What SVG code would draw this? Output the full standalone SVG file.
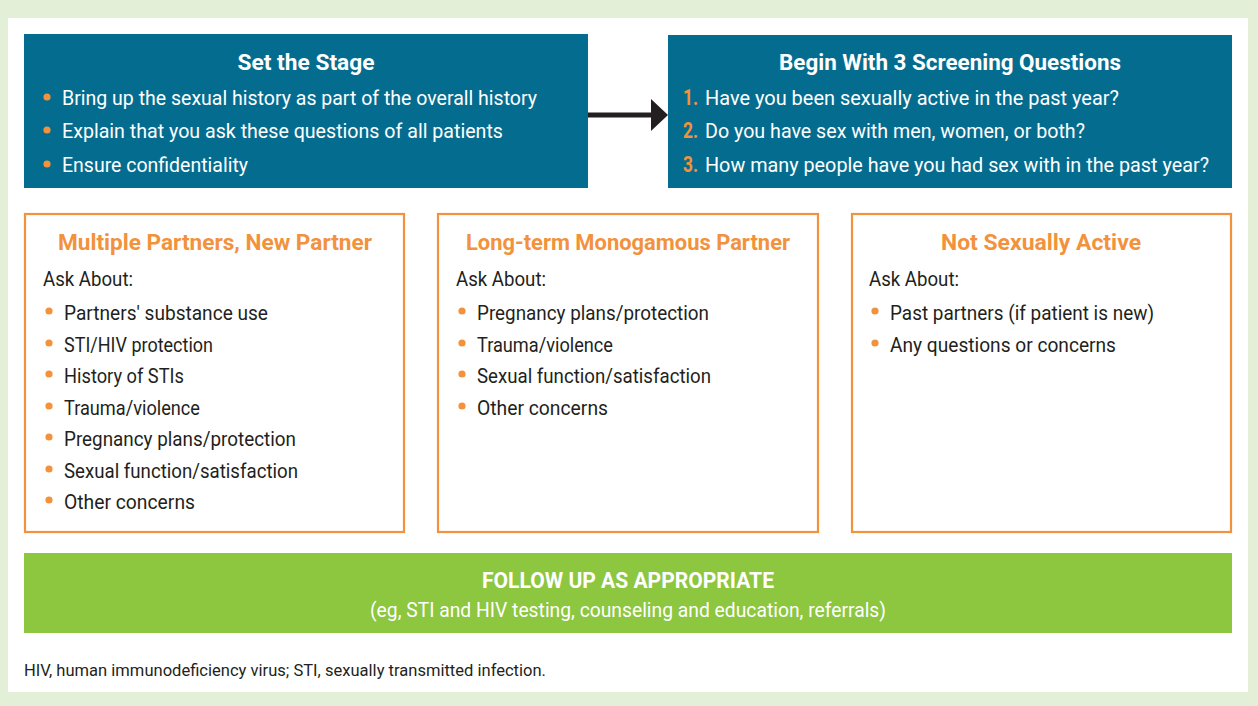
<svg xmlns="http://www.w3.org/2000/svg" width="1258" height="706" viewBox="0 0 1258 706">
  <defs>
    <style>
      .teal { fill: #046d8f; }
      .obox { fill: #ffffff; stroke: #f2923c; stroke-width: 2.2; }
      .green { fill: #8dc63f; }
      .t { font-family: Roboto, "Liberation Sans", sans-serif; font-size: 21px; }
      .w { fill: #ffffff; }
      .k { fill: #231f20; }
      .h { font-family: Roboto, "Liberation Sans", sans-serif; font-size: 22.5px; font-weight: 700; text-anchor: middle; }
      .h2 { font-size: 21.5px; }
      .oh { fill: #f2923c; }
      .num { fill: #f2923c; font-weight: 700; font-size: 21.5px; }
      .dot { fill: #f2923c; }
      .conn { stroke: #231f20; stroke-width: 5; fill: none; }
    </style>
    <marker id="arrowhead" markerUnits="userSpaceOnUse" markerWidth="18" markerHeight="32" refX="0" refY="16" orient="auto">
      <path d="M0,0 L17,16 L0,32 Z" fill="#231f20"/>
    </marker>
  </defs>

  <!-- page background and sheet -->
  <rect x="0" y="0" width="1258" height="706" fill="#e3efd6"/>
  <rect x="8" y="18" width="1240" height="674" fill="#ffffff"/>

  <!-- Set the Stage -->
  <g id="set-stage">
    <rect class="teal" x="24" y="34" width="564" height="154"/>
    <text class="h w" x="306" y="69.5" textLength="137" lengthAdjust="spacingAndGlyphs">Set the Stage</text>
    <circle class="dot" cx="47" cy="97" r="3.6"/>
    <circle class="dot" cx="47" cy="130" r="3.6"/>
    <circle class="dot" cx="47" cy="164" r="3.6"/>
    <text class="t w" x="62" y="105" textLength="475" lengthAdjust="spacingAndGlyphs">Bring up the sexual history as part of the overall history</text>
    <text class="t w" x="62" y="138" textLength="441" lengthAdjust="spacingAndGlyphs">Explain that you ask these questions of all patients</text>
    <text class="t w" x="62" y="172" textLength="186" lengthAdjust="spacingAndGlyphs">Ensure confidentiality</text>
  </g>

  <!-- Screening questions -->
  <g id="screening">
    <rect class="teal" x="668" y="35" width="564" height="153"/>
    <text class="h w" x="950" y="69.5" textLength="342" lengthAdjust="spacingAndGlyphs">Begin With 3 Screening Questions</text>
    <text class="t num" x="683" y="105" textLength="15" lengthAdjust="spacingAndGlyphs">1.</text>
    <text class="t num" x="683" y="138" textLength="15" lengthAdjust="spacingAndGlyphs">2.</text>
    <text class="t num" x="683" y="172" textLength="15" lengthAdjust="spacingAndGlyphs">3.</text>
    <text class="t w" x="705" y="105" textLength="414" lengthAdjust="spacingAndGlyphs">Have you been sexually active in the past year?</text>
    <text class="t w" x="705" y="138" textLength="380" lengthAdjust="spacingAndGlyphs">Do you have sex with men, women, or both?</text>
    <text class="t w" x="705" y="172" textLength="504" lengthAdjust="spacingAndGlyphs">How many people have you had sex with in the past year?</text>
  </g>

  <!-- Multiple partners -->
  <g id="multiple-partners">
    <rect class="obox" x="25" y="214" width="379" height="318"/>
    <text class="h h2 oh" x="215" y="250" textLength="314" lengthAdjust="spacingAndGlyphs">Multiple Partners, New Partner</text>
    <text class="t k" x="43" y="286" textLength="90" lengthAdjust="spacingAndGlyphs">Ask About:</text>
    <circle class="dot" cx="49" cy="311" r="3.6"/>
    <circle class="dot" cx="49" cy="343" r="3.6"/>
    <circle class="dot" cx="49" cy="374" r="3.6"/>
    <circle class="dot" cx="49" cy="406" r="3.6"/>
    <circle class="dot" cx="49" cy="437" r="3.6"/>
    <circle class="dot" cx="49" cy="469" r="3.6"/>
    <circle class="dot" cx="49" cy="500" r="3.6"/>
    <text class="t k" x="64" y="320" textLength="204" lengthAdjust="spacingAndGlyphs">Partners' substance use</text>
    <text class="t k" x="64" y="352" textLength="149" lengthAdjust="spacingAndGlyphs">STI/HIV protection</text>
    <text class="t k" x="64" y="383" textLength="120" lengthAdjust="spacingAndGlyphs">History of STIs</text>
    <text class="t k" x="64" y="415" textLength="136" lengthAdjust="spacingAndGlyphs">Trauma/violence</text>
    <text class="t k" x="64" y="446" textLength="232" lengthAdjust="spacingAndGlyphs">Pregnancy plans/protection</text>
    <text class="t k" x="64" y="478" textLength="234" lengthAdjust="spacingAndGlyphs">Sexual function/satisfaction</text>
    <text class="t k" x="64" y="509" textLength="131" lengthAdjust="spacingAndGlyphs">Other concerns</text>
  </g>

  <!-- Long-term partner -->
  <g id="monogamous">
    <rect class="obox" x="438" y="214" width="380" height="318"/>
    <text class="h h2 oh" x="628" y="250" textLength="324" lengthAdjust="spacingAndGlyphs">Long-term Monogamous Partner</text>
    <text class="t k" x="456" y="286" textLength="90" lengthAdjust="spacingAndGlyphs">Ask About:</text>
    <circle class="dot" cx="462" cy="311" r="3.6"/>
    <circle class="dot" cx="462" cy="343" r="3.6"/>
    <circle class="dot" cx="462" cy="374" r="3.6"/>
    <circle class="dot" cx="462" cy="406" r="3.6"/>
    <text class="t k" x="477" y="320" textLength="232" lengthAdjust="spacingAndGlyphs">Pregnancy plans/protection</text>
    <text class="t k" x="477" y="352" textLength="136" lengthAdjust="spacingAndGlyphs">Trauma/violence</text>
    <text class="t k" x="477" y="383" textLength="234" lengthAdjust="spacingAndGlyphs">Sexual function/satisfaction</text>
    <text class="t k" x="477" y="415" textLength="131" lengthAdjust="spacingAndGlyphs">Other concerns</text>
  </g>

  <!-- Not sexually active -->
  <g id="not-active">
    <rect class="obox" x="852" y="214" width="379" height="318"/>
    <text class="h h2 oh" x="1041" y="250" textLength="200" lengthAdjust="spacingAndGlyphs">Not Sexually Active</text>
    <text class="t k" x="869" y="286" textLength="90" lengthAdjust="spacingAndGlyphs">Ask About:</text>
    <circle class="dot" cx="875" cy="311" r="3.6"/>
    <circle class="dot" cx="875" cy="343" r="3.6"/>
    <text class="t k" x="890" y="320" textLength="264" lengthAdjust="spacingAndGlyphs">Past partners (if patient is new)</text>
    <text class="t k" x="890" y="352" textLength="226" lengthAdjust="spacingAndGlyphs">Any questions or concerns</text>
  </g>

  <!-- Follow up -->
  <g id="follow-up">
    <rect class="green" x="24" y="553" width="1208" height="80"/>
    <text class="h h2 w" x="628" y="588" textLength="292" lengthAdjust="spacingAndGlyphs">FOLLOW UP AS APPROPRIATE</text>
    <text class="t w" x="628" y="617" text-anchor="middle" textLength="516" lengthAdjust="spacingAndGlyphs">(eg, STI and HIV testing, counseling and education, referrals)</text>
  </g>

  <!-- Footnote -->
  <g id="footnote">
    <text class="k" x="24" y="676" font-family="Roboto, 'Liberation Sans', sans-serif" font-size="17" textLength="522" lengthAdjust="spacingAndGlyphs">HIV, human immunodeficiency virus; STI, sexually transmitted infection.</text>
  </g>

  <!-- Connectors -->
  <g id="connectors">
    <line class="conn" x1="588" y1="115" x2="651" y2="115" marker-end="url(#arrowhead)"/>
  </g>
</svg>
